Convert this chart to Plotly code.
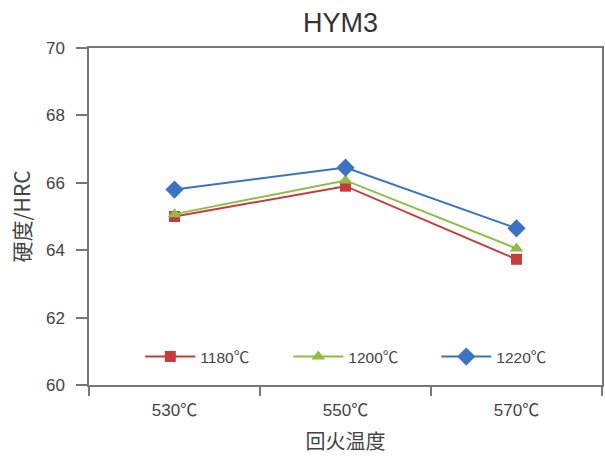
import plotly.graph_objects as go

categories = ["530℃", "550℃", "570℃"]
series_names = ["1180℃", "1200℃", "1220℃"]
hrc_1180 = [65.0, 65.9, 63.73]
hrc_1200 = [65.07, 66.07, 64.05]
hrc_1220 = [65.8, 66.45, 64.65]
y_ticks = [60, 62, 64, 66, 68, 70]

colors = ["#c63b3b", "#8fbe45", "#3b73c2"]
symbols = ["square", "triangle-up", "diamond"]
sizes = [11, 12, 14]

fig = go.Figure()
for name, vals, c, s, sz in zip(series_names, [hrc_1180, hrc_1200, hrc_1220], colors, symbols, sizes):
    fig.add_trace(go.Scatter(
        x=categories, y=vals, name=name, mode="lines+markers",
        line=dict(color=c, width=2),
        marker=dict(symbol=s, size=sz, color=c),
    ))

font_family = "Liberation Sans, Arial, Noto Sans CJK SC"
cjk = "Noto Sans CJK SC"
fig.update_layout(
    width=605, height=460,
    margin=dict(l=89, r=3, t=48, b=75, autoexpand=False),
    paper_bgcolor="white", plot_bgcolor="white",
    font=dict(family=font_family, color="#444", size=16),
    title=dict(text="HYM3", x=0.563, xanchor="center", y=0.95, yanchor="middle",
               font=dict(size=27, color="#333")),
    showlegend=True,
    legend=dict(orientation="h", x=0.1, y=0.083, xanchor="left", yanchor="middle",
                bgcolor="rgba(0,0,0,0)", font=dict(size=15.5, color="#444"),
                entrywidth=83, entrywidthmode="pixels", itemwidth=50,
                tracegroupgap=0),
    xaxis=dict(
        type="category", tickson="boundaries", ticks="outside", ticklen=9,
        tickcolor="#777", tickwidth=1.5, automargin=False, ticklabelstandoff=9,
        showline=True, linecolor="#777", linewidth=1.5, mirror=True,
        showgrid=False, range=[-0.5, 2.5],
        title=dict(text="回火温度", font=dict(size=20, family=cjk, color="#444"), standoff=16),
        tickfont=dict(size=17, color="#444"),
    ),
    yaxis=dict(
        range=[60, 70], tickvals=y_ticks, ticks="outside", ticklen=11,
        tickcolor="#777", tickwidth=1.5, automargin=False, ticklabelstandoff=8,
        showline=True, linecolor="#777", linewidth=1.5, mirror=True,
        showgrid=False, zeroline=False,
        title=dict(text="硬度/HRC", font=dict(size=21, family=cjk, color="#444"), standoff=10),
        tickfont=dict(size=17, color="#444"),
    ),
)

fig.write_html("out.html", config={"displayModeBar": False},
               post_script="document.body.style.margin='0';document.body.style.overflow='hidden';")
